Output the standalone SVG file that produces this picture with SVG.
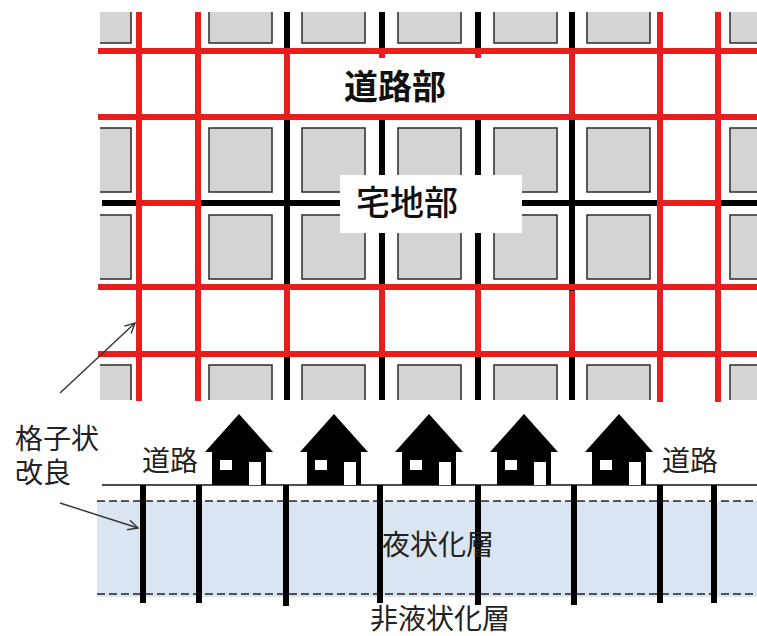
<svg xmlns="http://www.w3.org/2000/svg" xmlns:xlink="http://www.w3.org/1999/xlink" width="757" height="636" viewBox="0 0 757 636">
  <style>
    .block { fill: #d4d4d4; stroke: #2a2a2a; stroke-width: 1.5; }
    .red { stroke: #e61e1e; stroke-width: 6; fill: none; }
    .blk { stroke: #000; stroke-width: 6; fill: none; }
    .pile { fill: #000; }
    .jp { font-family: "Noto Sans CJK JP", "Noto Sans", sans-serif; fill: #111; }
    .big { font-size: 34px; }
    .small { font-size: 28px; font-weight: 400; fill: #222; }
    .dash { stroke: #222; stroke-width: 1.5; stroke-dasharray: 8 4; fill: none; }
    .ptr { stroke: #333; stroke-width: 1.4; fill: none; marker-end: url(#open); }
  </style>
  <defs>
    <clipPath id="planClip">
      <rect x="100" y="12" width="657" height="388"/>
    </clipPath>
    <marker id="open" viewBox="0 0 12 12" refX="11" refY="6" markerWidth="12" markerHeight="12" markerUnits="userSpaceOnUse" orient="auto">
      <path d="M1,1 L11,6 L1,11" fill="none" stroke="#333" stroke-width="1.4"/>
    </marker>
    <g id="house">
      <polygon points="0,-71 34,-33 -34,-33" fill="#000"/>
      <rect x="-27" y="-34" width="54" height="34" fill="#000"/>
      <rect x="-19" y="-25" width="12" height="10" fill="#fff"/>
      <rect x="10" y="-23" width="12" height="23" fill="#fff"/>
    </g>
  </defs>

  <rect width="757" height="636" fill="#fff"/>

  <!-- plan view: housing blocks -->
  <g id="blocks" clip-path="url(#planClip)">
    <g id="row1">
      <rect class="block" x="68" y="-21" width="63" height="64"/>
      <rect class="block" x="209" y="-21" width="63" height="64"/>
      <rect class="block" x="302" y="-21" width="63" height="64"/>
      <rect class="block" x="398" y="-21" width="63" height="64"/>
      <rect class="block" x="494" y="-21" width="63" height="64"/>
      <rect class="block" x="587" y="-21" width="63" height="64"/>
      <rect class="block" x="730" y="-21" width="63" height="64"/>
    </g>
    <g id="row2">
      <rect class="block" x="68" y="128" width="63" height="64"/>
      <rect class="block" x="209" y="128" width="63" height="64"/>
      <rect class="block" x="302" y="128" width="63" height="64"/>
      <rect class="block" x="398" y="128" width="63" height="64"/>
      <rect class="block" x="494" y="128" width="63" height="64"/>
      <rect class="block" x="587" y="128" width="63" height="64"/>
      <rect class="block" x="730" y="128" width="63" height="64"/>
    </g>
    <g id="row3">
      <rect class="block" x="68" y="215" width="63" height="64"/>
      <rect class="block" x="209" y="215" width="63" height="64"/>
      <rect class="block" x="302" y="215" width="63" height="64"/>
      <rect class="block" x="398" y="215" width="63" height="64"/>
      <rect class="block" x="494" y="215" width="63" height="64"/>
      <rect class="block" x="587" y="215" width="63" height="64"/>
      <rect class="block" x="730" y="215" width="63" height="64"/>
    </g>
    <g id="row4">
      <rect class="block" x="68" y="365" width="63" height="64"/>
      <rect class="block" x="209" y="365" width="63" height="64"/>
      <rect class="block" x="302" y="365" width="63" height="64"/>
      <rect class="block" x="398" y="365" width="63" height="64"/>
      <rect class="block" x="494" y="365" width="63" height="64"/>
      <rect class="block" x="587" y="365" width="63" height="64"/>
      <rect class="block" x="730" y="365" width="63" height="64"/>
    </g>
  </g>

  <!-- plan view: grid walls (black = lot lines, red = road walls) -->
  <g id="grid">
    <path class="blk" d="M287,12V400 M382,12V400 M478,12V400 M572,12V400 M102,203H757"/>
    <path class="red" d="M287,51V117 M382,51V117 M478,51V117 M572,51V117 M287,287V354 M382,287V354 M478,287V354 M572,291V354"/>
    <path class="red" d="M139,203H198 M660,203H718"/>
    <path class="red" d="M98,51H757 M98,117H757 M98,287H757 M98,354H757"/>
    <path class="red" d="M139,12V401 M198,12V401 M660,12V402 M718,12V402"/>
  </g>

  <g id="label-road">
    <rect x="323" y="58" width="174" height="56" fill="#fff"/>
    <text class="jp big" x="344" y="99" font-weight="700">道路部</text>
  </g>
  <g id="label-lots">
    <rect x="340" y="175" width="182" height="58" fill="#fff"/>
    <text class="jp big" x="356" y="215" font-weight="500">宅地部</text>
  </g>

  <!-- cross section -->
  <g id="layers">
    <rect x="97" y="501" width="660" height="96" fill="#dbe5f1"/>
    <path class="dash" d="M97,501H757 M97,594H757"/>
    <path d="M102,485H757" stroke="#111" stroke-width="1.5"/>
  </g>

  <g id="piles">
    <rect class="pile" x="140" y="485" width="6" height="118"/>
    <rect class="pile" x="196" y="485" width="6" height="118"/>
    <rect class="pile" x="283" y="485" width="6" height="121"/>
    <rect class="pile" x="377" y="485" width="6" height="118"/>
    <rect class="pile" x="475" y="485" width="6" height="120"/>
    <rect class="pile" x="571" y="485" width="6" height="120"/>
    <rect class="pile" x="657" y="485" width="6" height="118"/>
    <rect class="pile" x="711" y="485" width="6" height="118"/>
  </g>

  <g id="house1"><use xlink:href="#house" transform="translate(239,485)"/></g>
  <g id="house2"><use xlink:href="#house" transform="translate(334,485)"/></g>
  <g id="house3"><use xlink:href="#house" transform="translate(429,485)"/></g>
  <g id="house4"><use xlink:href="#house" transform="translate(524,485)"/></g>
  <g id="house5"><use xlink:href="#house" transform="translate(619,485)"/></g>

  <g id="labels">
    <text class="jp small" x="142" y="471">道路</text>
    <text class="jp small" x="662" y="471">道路</text>
    <text class="jp small" font-size="27"><tspan x="15" y="449">格子状</tspan><tspan x="15" y="483">改良</tspan></text>
    <text class="jp small" x="382" y="555" font-size="27">夜状化層</text>
    <text class="jp small" x="370" y="629" font-size="27">非液状化層</text>
  </g>

  <g id="connectors">
    <path class="ptr" d="M60,393L135,323"/>
    <path class="ptr" d="M60,503L138,528"/>
  </g>
</svg>
